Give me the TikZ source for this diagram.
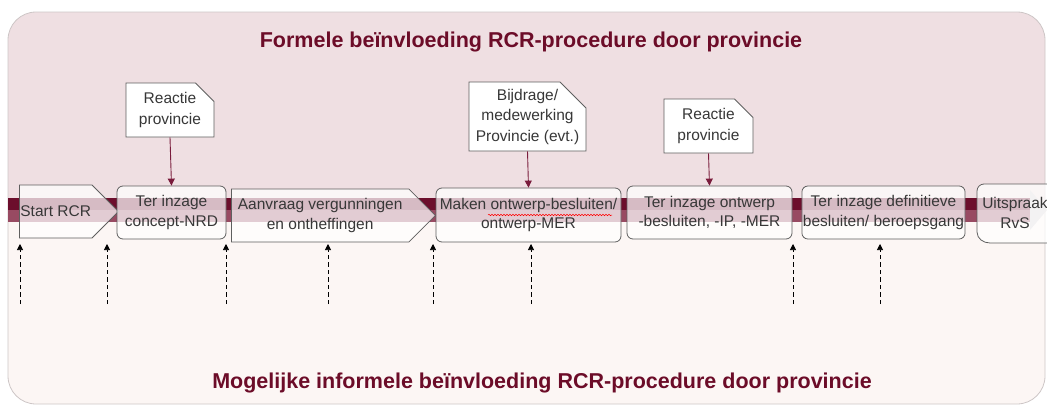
\documentclass[tikz,border=0pt]{standalone}
\usepackage{fontspec}
\setmainfont{Liberation Sans}
\usetikzlibrary{arrows.meta,shapes.symbols,shapes.misc,decorations.pathmorphing}

\definecolor{pinktop}{RGB}{239,223,226}
\definecolor{lightbot}{RGB}{252,246,244}
\definecolor{frameline}{RGB}{205,198,198}
\definecolor{banddark}{RGB}{108,14,44}
\definecolor{bandlow}{RGB}{152,74,98}
\definecolor{titlered}{RGB}{108,12,40}
\definecolor{boxtext}{RGB}{55,55,55}
\definecolor{boxline}{RGB}{95,95,95}
\definecolor{callarrow}{RGB}{122,28,60}
\definecolor{endarrow}{RGB}{215,210,212}

\begin{document}
\begin{tikzpicture}[x=1pt,y=-1pt,
  stepbox/.style={draw=boxline,line width=0.8pt,fill=white,fill opacity=0.72,text opacity=1,
    text=boxtext,align=center,font=\fontsize{15.5}{19.5}\selectfont,inner sep=1pt},
  roundbox/.style={stepbox,rectangle,rounded corners=6pt},
  arrowbox/.style={stepbox,signal,signal to=east,signal pointer angle=90},
  callout/.style={draw=boxline,line width=0.8pt,fill=white,text=boxtext,align=center,
    font=\fontsize{15.5}{20.5}\selectfont,inner sep=-12pt,chamfered rectangle,
    chamfered rectangle corners=north east,chamfered rectangle xsep=13pt,chamfered rectangle ysep=13pt},
  inflow/.style={callarrow,line width=0.9pt,-{Triangle[length=7pt,width=7pt]}},
  hint/.style={black,line width=0.7pt,dash pattern=on 4.5pt off 3pt,-{Triangle[length=6pt,width=6pt]}},
  heading/.style={titlered,font=\fontsize{21.5}{24}\selectfont\bfseries}]

\useasboundingbox (0,0) rectangle (1047,407);

% -- background panels
\begin{scope}
\clip[rounded corners=28pt] (8,12) rectangle (1045,404);
\fill[pinktop] (0,0) rectangle (1047,210);
\fill[lightbot] (0,210) rectangle (1047,407);
\end{scope}
\draw[frameline,line width=0.8pt,rounded corners=28pt] (8,12) rectangle (1045,404);

% -- time band
\fill[banddark] (8,198) rectangle (1036,210);
\fill[bandlow] (8,210) rectangle (1036,222);
\fill[endarrow] (1030,190) -- (1047,210) -- (1030,230) -- cycle;

\node[heading] (formal) at (531,42) {Formele beïnvloeding RCR-procedure door provincie};
\node[heading] (informal) at (542,383) {Mogelijke informele beïnvloeding RCR-procedure door provincie};

% -- procedure steps
\node[arrowbox,anchor=west,minimum width=88pt,minimum height=53pt] (start) at (19,211.5) {Start RCR};
\node[roundbox,minimum width=109pt,minimum height=53pt] (nrd) at (171.5,212.5) {Ter inzage\\concept-NRD};
\node[arrowbox,anchor=west,minimum width=204pt,minimum height=53pt] (aanvraag) at (231,215.5) {Aanvraag vergunningen\\en ontheffingen};
\node[roundbox,minimum width=185pt,minimum height=54pt] (maken) at (528.5,215) {Maken ontwerp-besluiten/\\ontwerp-MER};
\node[roundbox,minimum width=165pt,minimum height=53pt] (ontwerp) at (709.5,212.5) {Ter inzage ontwerp\\-besluiten, -IP, -MER};
\node[roundbox,minimum width=163pt,minimum height=53pt] (definitief) at (883.5,212.5) {Ter inzage definitieve\\besluiten/ beroepsgang};
\draw[draw=boxline,line width=0.8pt,fill=white,fill opacity=0.72]
  (1052,184) -- (984,184) to[out=180,in=90] (977,191) -- (977,232) to[out=-90,in=180] (990,243) -- (1052,243);
\node[text=boxtext,align=center,font=\fontsize{15.5}{19.5}\selectfont] (rvs) at (1015,213) {Uitspraak\\RvS};

% spelling mark
\draw[red,line width=0.5pt,decorate,decoration={snake,amplitude=0.7pt,segment length=3pt}] (488,215) -- (612,215);

% -- formal input of the province
\node[callout,minimum width=88pt,minimum height=54pt] (reactie1) at (170,110) {Reactie\\provincie};
\node[callout,minimum width=117pt,minimum height=69pt] (bijdrage) at (527.5,116.5) {Bijdrage/\\medewerking\\Provincie (evt.)};
\node[callout,minimum width=89pt,minimum height=54pt] (reactie2) at (708.5,126) {Reactie\\provincie};

\draw[inflow] (reactie1.south) -- (nrd.north);
\draw[inflow] (bijdrage.south) -- (maken.north);
\draw[inflow] (reactie2.south) -- (ontwerp.north);

% -- informal input
\foreach \x [count=\i] in {20,107,226,328,433,531,793,880}{
  \coordinate (low\i) at (\x,304);
  \coordinate (top\i) at (\x,244);
  \draw[hint] (low\i) -- (top\i);
}
\end{tikzpicture}
\end{document}
